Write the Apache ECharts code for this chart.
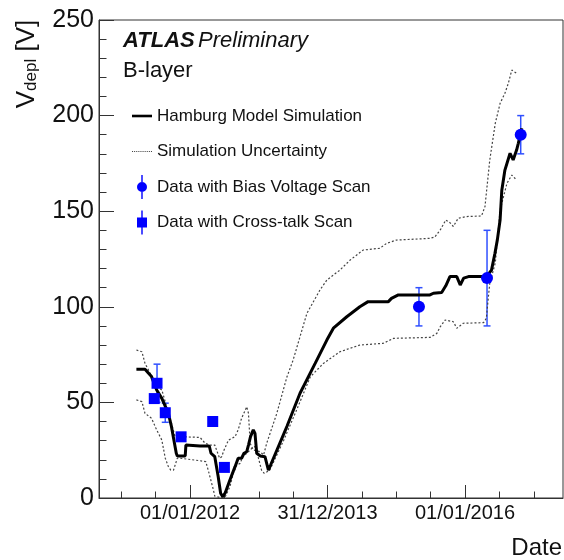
<!DOCTYPE html>
<html>
<head>
<meta charset="utf-8">
<script src="https://cdn.jsdelivr.net/npm/echarts@6/dist/echarts.min.js"></script>
<style>
  html, body { margin: 0; background: #fff; }
  #chart { width: 564px; height: 560px; }
</style>
</head>
<body>
<div id="chart"></div>
<script>
// x values are decimal years
const xMajorTicks = [2012, 2014, 2016]
const xTickLabels = ['01/01/2012', '31/12/2013', '01/01/2016']
const xMinorTicks = [2011, 2011.5, 2012.5, 2013, 2013.5, 2014.5, 2015, 2015.5, 2016.5, 2017]

// Hamburg model simulation
const hamburg = [
  [2011.22, 67.3], [2011.345, 67.3], [2011.39, 65.5], [2011.44, 63.5], [2011.515, 56.5],
  [2011.59, 52.1], [2011.685, 44.3], [2011.73, 37.3], [2011.8, 23.4], [2011.815, 22],
  [2011.93, 22], [2011.94, 27.7], [2012.145, 27.2], [2012.28, 27.2], [2012.305, 23.4],
  [2012.36, 21.6], [2012.41, 11.1], [2012.445, 2.5], [2012.475, 0.7], [2012.51, 2.5],
  [2012.58, 9.4], [2012.655, 16.4], [2012.7, 20.8], [2012.75, 20.8], [2012.785, 23.4],
  [2012.825, 24.2], [2012.85, 27.7], [2012.88, 32.1], [2012.92, 35.6], [2012.945, 33.8],
  [2012.97, 23.4], [2013.02, 22], [2013.09, 21.6], [2013.14, 14.6], [2013.175, 17.5],
  [2013.41, 37.5], [2013.6, 54.8], [2013.82, 70.4], [2013.99, 82.6], [2014.085, 88.8],
  [2014.28, 94.8], [2014.47, 100], [2014.59, 102.7], [2014.885, 102.7], [2014.93, 104.4],
  [2015.03, 106.2], [2015.49, 106.2], [2015.54, 107.1], [2015.66, 107.5], [2015.72, 111],
  [2015.78, 115.8], [2015.88, 115.8], [2015.93, 111.4], [2015.98, 115], [2016.05, 115.8],
  [2016.31, 115.8], [2016.385, 119.2], [2016.435, 128], [2016.47, 135], [2016.51, 145.4],
  [2016.535, 161], [2016.58, 171.5], [2016.655, 180.3], [2016.7, 176.8], [2016.75, 182],
  [2016.775, 185.5], [2016.825, 193.4]
]

// simulation uncertainty band edges
const upperBand = [
  [2011.22, 77.4], [2011.3, 76.5], [2011.345, 70.4], [2011.42, 65.2], [2011.49, 59.1],
  [2011.59, 56.5], [2011.66, 47.7], [2011.73, 39.1], [2011.78, 32.4], [2011.81, 32.1],
  [2012.145, 31.7], [2012.22, 28.6], [2012.29, 27.7], [2012.36, 27.7], [2012.43, 20.8],
  [2012.46, 21.6], [2012.495, 25.1], [2012.56, 30.3], [2012.61, 31.2], [2012.655, 32.1],
  [2012.7, 35.6], [2012.75, 41.7], [2012.825, 47.7], [2012.85, 44.3], [2012.875, 28.6],
  [2012.92, 25.1], [2013.02, 24.2], [2013.07, 22.5], [2013.115, 28.6], [2013.26, 44],
  [2013.41, 63.4], [2013.5, 72.2], [2013.7, 96.6], [2013.89, 108.8], [2013.99, 114],
  [2014.18, 119.2], [2014.33, 124.5], [2014.52, 129.7], [2014.76, 130.6], [2014.86, 133.2],
  [2015.0, 134.9], [2015.49, 135.8], [2015.56, 136.5], [2015.64, 140.2], [2015.72, 145.4],
  [2015.78, 144], [2015.83, 142], [2015.9, 146.3], [2016.02, 147.2], [2016.24, 147.5],
  [2016.29, 152.4], [2016.36, 176.8], [2016.44, 196], [2016.51, 206.4], [2016.58, 211.7],
  [2016.63, 216.9], [2016.68, 223.8], [2016.75, 222.1]
]
const lowerBand = [
  [2011.22, 51.3], [2011.3, 50.4], [2011.345, 44.3], [2011.44, 41.7], [2011.515, 35.6],
  [2011.59, 30.3], [2011.64, 20.8], [2011.685, 16.4], [2011.72, 14.6], [2011.76, 14.6],
  [2011.815, 20.8], [2011.855, 20.8], [2012.145, 19.5], [2012.23, 19], [2012.27, 13.8],
  [2012.29, 12.9], [2012.34, 4.2], [2012.36, 1], [2012.41, 0.5], [2012.51, 0.5],
  [2012.58, 5.9], [2012.63, 12.9], [2012.68, 17.3], [2012.73, 18.1], [2012.765, 21.6],
  [2012.825, 23.4], [2012.9, 26], [2012.945, 26.9], [2012.99, 21.6], [2013.04, 14.6],
  [2013.08, 12.9], [2013.16, 14.6], [2013.36, 30], [2013.55, 46], [2013.75, 63.4],
  [2013.94, 70.4], [2014.18, 76.5], [2014.47, 80], [2014.81, 80.9], [2014.96, 83.5],
  [2015.49, 84], [2015.59, 86.1], [2015.64, 89.6], [2015.71, 93.1], [2015.83, 92.2],
  [2015.88, 88.8], [2015.975, 91.4], [2016.27, 91.7], [2016.31, 94], [2016.34, 105.3],
  [2016.36, 112.3], [2016.44, 122.9], [2016.51, 150.6], [2016.61, 164.6], [2016.68, 168.9],
  [2016.75, 166.3]
]

// measurements: [year, V, error]
const biasScan = [[2015.33, 100, 10], [2016.32, 115, 25], [2016.81, 190, 10]]
const crossTalk = [
  [2011.48, 52, 2], [2011.52, 60, 10], [2011.64, 44.6, 5],
  [2011.87, 32, 2], [2012.33, 40, 2], [2012.5, 16, 2]
]

const FONT = 'Liberation Sans, Arial, sans-serif'
const AXIS = '#333'
const BLUE = '#0000ff'

const circleIcon = 'path://M4.3,0H5.7V24H4.3Z M0,12A5,5,0,1,1,10,12A5,5,0,1,1,0,12Z'
const squareIcon = 'path://M4.3,0H5.7V24H4.3Z M0,7H10V17H0Z'
const solidIcon = 'path://M0,0H20V2.6H0Z'
let dots = ''
for (let i = 0; i < 10; i++) dots += 'M' + (i * 2) + ',0h1v1h-1Z '
const dottedIcon = 'path://' + dots

function errorBars(params, api) {
  const x = api.value(0), y = api.value(1), e = api.value(2)
  const top = api.coord([x, y + e])
  const bot = api.coord([x, y - e])
  const st = { stroke: '#3050ff', lineWidth: 1.5 }
  return {
    type: 'group',
    children: [
      { type: 'line', shape: { x1: top[0], y1: top[1], x2: bot[0], y2: bot[1] }, style: st },
      { type: 'line', shape: { x1: top[0] - 3.5, y1: top[1], x2: top[0] + 3.5, y2: top[1] }, style: st },
      { type: 'line', shape: { x1: bot[0] - 3.5, y1: bot[1], x2: bot[0] + 3.5, y2: bot[1] }, style: st }
    ]
  }
}

let chart = echarts.init(document.getElementById('chart'))
chart.setOption({
  animation: false,
  textStyle: { fontFamily: FONT },
  grid: {
    left: 99, right: 1, top: 20, bottom: 62,
    show: true, borderColor: AXIS, borderWidth: 1
  },
  xAxis: [
    {
      type: 'value', min: 2010.676, max: 2017.425,
      axisLine: { lineStyle: { color: AXIS } },
      axisTick: { inside: true, length: 13, customValues: xMajorTicks, lineStyle: { color: AXIS } },
      axisLabel: {
        customValues: xMajorTicks,
        fontSize: 20, color: '#111', margin: 5, fontFamily: FONT,
        formatter: v => xTickLabels[xMajorTicks.indexOf(v)]
      },
      splitLine: { show: false }
    },
    {
      type: 'value', min: 2010.676, max: 2017.425, position: 'bottom',
      axisLine: { show: false },
      axisTick: { inside: true, length: 6.5, customValues: xMinorTicks, lineStyle: { color: AXIS } },
      axisLabel: { show: false },
      splitLine: { show: false }
    }
  ],
  yAxis: {
    type: 'value', min: 0, max: 250, interval: 50,
    axisLine: { show: true, lineStyle: { color: AXIS } },
    axisTick: { show: true, inside: true, length: 15, lineStyle: { color: AXIS } },
    minorTick: { show: true, splitNumber: 5, length: 7.5, lineStyle: { color: AXIS } },
    axisLabel: { fontSize: 25, color: '#111', margin: 5, fontFamily: FONT },
    splitLine: { show: false }
  },
  legend: {
    orient: 'vertical', left: 132, top: 104, padding: 0,
    itemWidth: 20, itemHeight: 24, itemGap: 11.5,
    textStyle: { fontSize: 17, lineHeight: 24, height: 24, color: '#111', fontFamily: FONT },
    data: [
      { name: 'Hamburg Model Simulation', icon: solidIcon },
      { name: 'Simulation Uncertainty', icon: dottedIcon },
      { name: 'Data with Bias Voltage Scan', icon: circleIcon },
      { name: 'Data with Cross-talk Scan', icon: squareIcon }
    ]
  },
  graphic: [
    {
      type: 'text', left: 123, top: 30,
      style: {
        text: '{b|ATLAS} {i|Preliminary}',
        rich: {
          b: { fontSize: 22, fontWeight: 'bold', fontStyle: 'italic', fontFamily: FONT, fill: '#111' },
          i: { fontSize: 22, fontStyle: 'italic', fontFamily: FONT, fill: '#111' }
        }
      }
    },
    {
      type: 'text', left: 123, top: 60,
      style: { text: 'B-layer', fontSize: 22, fontFamily: FONT, fill: '#111' }
    },
    {
      type: 'text', x: 27, y: 64, rotation: Math.PI / 2,
      style: {
        text: '{m|V}{s|depl}{m| [V]}',
        align: 'center', verticalAlign: 'middle',
        rich: {
          m: { fontSize: 26, fontFamily: FONT, fill: '#111' },
          s: { fontSize: 17, fontFamily: FONT, fill: '#111', verticalAlign: 'bottom', padding: [8, 0, 0, 0] }
        }
      }
    },
    {
      type: 'text', right: 2, top: 536,
      style: { text: 'Date', fontSize: 24, fontFamily: FONT, fill: '#111' }
    }
  ],
  series: [
    {
      name: 'Simulation Uncertainty', type: 'line', data: upperBand,
      symbol: 'none', lineStyle: { color: '#444', width: 1.2, type: [2, 2] },
      itemStyle: { color: '#444' }
    },
    {
      name: 'Simulation Uncertainty', type: 'line', data: lowerBand,
      symbol: 'none', lineStyle: { color: '#444', width: 1.2, type: [2, 2] },
      itemStyle: { color: '#444' }
    },
    {
      name: 'Hamburg Model Simulation', type: 'line', data: hamburg,
      symbol: 'none', lineStyle: { color: '#000', width: 3 },
      itemStyle: { color: '#000' }
    },
    {
      name: 'biasErr', type: 'custom', data: biasScan, renderItem: errorBars,
      encode: { x: 0, y: 1 }, z: 3
    },
    {
      name: 'crossErr', type: 'custom', data: crossTalk, renderItem: errorBars,
      encode: { x: 0, y: 1 }, z: 3
    },
    {
      name: 'Data with Bias Voltage Scan', type: 'scatter', data: biasScan,
      symbol: 'circle', symbolSize: 12, itemStyle: { color: BLUE, opacity: 1 }, z: 4
    },
    {
      name: 'Data with Cross-talk Scan', type: 'scatter', data: crossTalk,
      symbol: 'rect', symbolSize: 11, itemStyle: { color: BLUE, opacity: 1 }, z: 4
    }
  ]
})
</script>
</body>
</html>
